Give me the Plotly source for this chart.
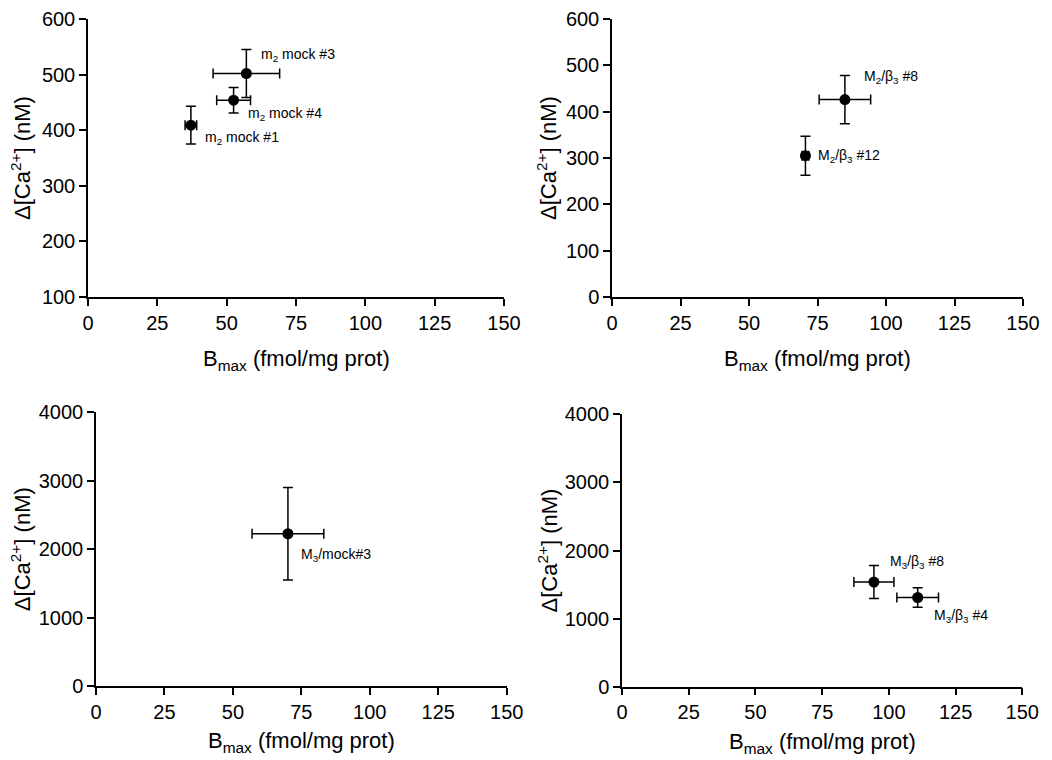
import plotly.graph_objects as go

# ---- data ----
# Panel A (top-left): m2 mock clones
a_labels = ["m<sub>2</sub> mock #3", "m<sub>2</sub> mock #4", "m<sub>2</sub> mock #1"]
a_x = [57.1, 52.5, 37.1]
a_xerr = [12.0, 6.1, 2.1]
a_y = [502, 454, 409]
a_yerr = [43, 23, 34]

# Panel B (top-right): M2/beta3 clones
b_labels = ["M<sub>2</sub>/β<sub>3</sub> #8", "M<sub>2</sub>/β<sub>3</sub> #12"]
b_x = [85.0, 70.6]
b_xerr = [9.4, 1.2]
b_y = [426, 305]
b_yerr = [52, 42]

# Panel C (bottom-left): M3/mock
c_labels = ["M<sub>3</sub>/mock#3"]
c_x = [70.1]
c_xerr = [13.1]
c_y = [2225]
c_yerr = [675]

# Panel D (bottom-right): M3/beta3 clones
d_labels = ["M<sub>3</sub>/β<sub>3</sub> #8", "M<sub>3</sub>/β<sub>3</sub> #4"]
d_x = [94.4, 110.8]
d_xerr = [7.5, 7.8]
d_y = [1537, 1310]
d_yerr = [242, 142]

# label offsets in pixels (x, y) relative to each point
a_off = [(13, 18), (12, -14), (12, -13)]
b_off = [(17, 23), (11, 0)]
c_off = [(11, -21)]
d_off = [(14, 20), (14, -19)]

x_ticks = [0, 25, 50, 75, 100, 125, 150]
xtitle = "B<sub>max</sub> (fmol/mg prot)"
ytitle = "Δ[Ca<sup>2+</sup>] (nM)"

FONT = "Arial, 'Liberation Sans', Helvetica, sans-serif"
W, H = 1052, 760

panels = [
    dict(x=a_x, xe=a_xerr, y=a_y, ye=a_yerr, lab=a_labels, off=a_off,
         xd=(88, 504), yd=(19, 297), yr=[100, 600], yt=[100, 200, 300, 400, 500, 600],
         ytx=21, xty=360),
    dict(x=b_x, xe=b_xerr, y=b_y, ye=b_yerr, lab=b_labels, off=b_off,
         xd=(612, 1023), yd=(19, 297), yr=[0, 600], yt=[0, 100, 200, 300, 400, 500, 600],
         ytx=547, xty=360),
    dict(x=c_x, xe=c_xerr, y=c_y, ye=c_yerr, lab=c_labels, off=c_off,
         xd=(96, 506.7), yd=(412.3, 686), yr=[0, 4000], yt=[0, 1000, 2000, 3000, 4000],
         ytx=21, xty=742),
    dict(x=d_x, xe=d_xerr, y=d_y, ye=d_yerr, lab=d_labels, off=d_off,
         xd=(622, 1022.3), yd=(414.3, 686.7), yr=[0, 4000], yt=[0, 1000, 2000, 3000, 4000],
         ytx=547, xty=743),
]

fig = go.Figure()
annotations = []
layout = {}
for i, p in enumerate(panels, start=1):
    sx = "" if i == 1 else str(i)
    fig.add_trace(go.Scatter(
        x=p["x"], y=p["y"], mode="markers",
        marker=dict(color="black", size=11, symbol="circle"),
        error_x=dict(type="data", array=p["xe"], color="black", thickness=1.5, width=5),
        error_y=dict(type="data", array=p["ye"], color="black", thickness=1.5, width=5),
        xaxis="x" + sx, yaxis="y" + sx, showlegend=False, cliponaxis=False,
    ))
    layout["xaxis" + sx] = dict(
        domain=[p["xd"][0] / W, p["xd"][1] / W], range=[0, 150],
        tickvals=x_ticks, ticks="outside", ticklen=7, tickwidth=1.5, tickcolor="black",
        showline=True, linecolor="black", linewidth=1.5, showgrid=False, zeroline=False,
        tickfont=dict(size=20, color="black", family=FONT),
        anchor="y" + sx, automargin=False, fixedrange=True,
    )
    layout["yaxis" + sx] = dict(
        domain=[1 - p["yd"][1] / H, 1 - p["yd"][0] / H], range=p["yr"],
        tickvals=p["yt"], ticks="outside", ticklen=7, tickwidth=1.5, tickcolor="black",
        showline=True, linecolor="black", linewidth=1.5, showgrid=False, zeroline=False,
        tickfont=dict(size=20, color="black", family=FONT),
        anchor="x" + sx, automargin=False, fixedrange=True,
    )
    # axis titles placed as paper annotations
    annotations.append(dict(
        x=(p["xd"][0] + p["xd"][1]) / 2 / W, y=1 - p["xty"] / H, xref="paper", yref="paper",
        text=xtitle, showarrow=False, xanchor="center", yanchor="middle",
        font=dict(size=22, color="black", family=FONT),
    ))
    annotations.append(dict(
        x=p["ytx"] / W, y=1 - (p["yd"][0] + p["yd"][1]) / 2 / H, xref="paper", yref="paper",
        text=ytitle, showarrow=False, xanchor="center", yanchor="middle", textangle=-90,
        font=dict(size=22, color="black", family=FONT),
    ))
    for xv, yv, t, (dx, dy) in zip(p["x"], p["y"], p["lab"], p["off"]):
        annotations.append(dict(
            x=xv, y=yv, xref="x" + sx, yref="y" + sx, text=t, showarrow=False,
            xanchor="left", yanchor="middle", xshift=dx, yshift=dy,
            font=dict(size=14, color="black", family=FONT),
        ))

fig.update_layout(
    width=W, height=H, margin=dict(l=0, r=0, t=0, b=0),
    paper_bgcolor="white", plot_bgcolor="white",
    annotations=annotations, **layout,
)

fig.write_html("out.html", config={"displayModeBar": False},
               post_script="document.body.style.margin='0';document.body.style.padding='0';")
